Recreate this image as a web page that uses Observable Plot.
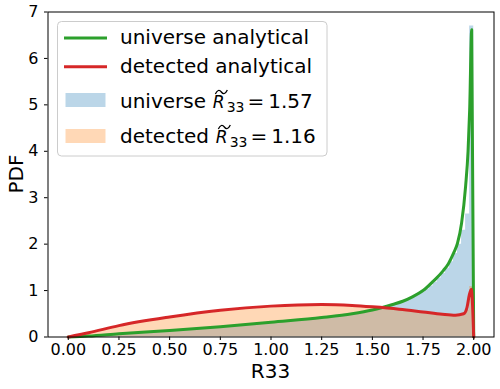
<!DOCTYPE html>
<html>
<head>
<meta charset="utf-8">
<script src="https://cdn.jsdelivr.net/npm/d3@7"></script>
<script src="https://cdn.jsdelivr.net/npm/@observablehq/plot@0.6"></script>
<style>
  html, body { margin: 0; padding: 0; background: white; }
  #chart { width: 500px; height: 389px; }
</style>
</head>
<body>
<div id="chart"></div>
<script>
// ---- data ----
const xTicks = [0, 0.25, 0.5, 0.75, 1.0, 1.25, 1.5, 1.75, 2.0];
const yTicks = [0, 1, 2, 3, 4, 5, 6, 7];

// analytical curves (x, pdf)
const universeX = [0, 0.1, 0.25, 0.5, 0.75, 1.0, 1.25, 1.4, 1.5, 1.6, 1.65, 1.7, 1.75, 1.8, 1.85, 1.875, 1.9, 1.92, 1.94, 1.96, 1.972, 1.98, 1.99, 2.0];
const universeY = [0, 0.02, 0.07, 0.14, 0.22, 0.32, 0.42, 0.5, 0.58, 0.70, 0.77, 0.87, 1.0, 1.2, 1.43, 1.58, 1.8, 2.02, 2.45, 3.25, 4.0, 4.9, 6.62, 0];
const detectedX = [0, 0.1, 0.25, 0.5, 0.75, 1.0, 1.25, 1.4, 1.5, 1.632, 1.75, 1.845, 1.91, 1.95, 1.967, 1.978, 1.988, 2.0];
const detectedY = [0, 0.09, 0.245, 0.43, 0.575, 0.665, 0.70, 0.68, 0.65, 0.60, 0.54, 0.49, 0.47, 0.50, 0.64, 0.90, 1.03, 0];

// histograms (density), bins of width 0.02 starting at 0
const binWidth = 0.02;
const universeHist = [
  0.00,0.01,0.01,0.02,0.02,0.03,0.03,0.04,0.04,0.05,
  0.05,0.06,0.06,0.07,0.07,0.08,0.08,0.09,0.09,0.10,
  0.11,0.11,0.12,0.12,0.13,0.14,0.14,0.15,0.15,0.16,
  0.17,0.17,0.18,0.19,0.19,0.20,0.21,0.22,0.22,0.23,
  0.24,0.25,0.25,0.26,0.27,0.28,0.29,0.30,0.30,0.31,
  0.32,0.33,0.34,0.35,0.36,0.36,0.37,0.38,0.39,0.40,
  0.41,0.42,0.43,0.44,0.45,0.46,0.47,0.48,0.49,0.50,
  0.51,0.52,0.53,0.55,0.56,0.58,0.60,0.62,0.64,0.67,
  0.69,0.72,0.75,0.79,0.83,0.87,0.92,0.97,1.03,1.10,
  1.18,1.27,1.37,1.48,1.62,1.80,2.00,2.30,2.65,6.70
];
const detectedHist = [
  0.005,0.02,0.04,0.06,0.08,0.10,0.12,0.14,0.16,0.18,
  0.20,0.22,0.24,0.255,0.27,0.285,0.30,0.315,0.33,0.345,
  0.36,0.375,0.39,0.40,0.41,0.42,0.435,0.445,0.455,0.465,
  0.475,0.485,0.495,0.505,0.515,0.525,0.535,0.545,0.55,0.56,
  0.57,0.575,0.585,0.59,0.60,0.605,0.61,0.615,0.62,0.625,
  0.63,0.635,0.64,0.645,0.65,0.65,0.655,0.655,0.66,0.66,
  0.66,0.665,0.665,0.665,0.66,0.66,0.66,0.655,0.655,0.65,
  0.645,0.64,0.635,0.63,0.625,0.62,0.61,0.605,0.60,0.59,
  0.585,0.58,0.57,0.56,0.555,0.545,0.535,0.53,0.52,0.51,
  0.50,0.495,0.485,0.48,0.47,0.465,0.465,0.48,0.58,1.09
];

const legendLabels = ["universe analytical", "detected analytical", "universe ", "detected "];
const medianValues = ["1.57", "1.16"];

// ---- build tables ----
const universeCurve = universeX.map((x, i) => ({x, y: universeY[i]}));
const detectedCurve = detectedX.map((x, i) => ({x, y: detectedY[i]}));
function histSteps(vals) {
  const pts = vals.map((v, i) => ({x: i * binWidth, y: v}));
  pts.push({x: vals.length * binWidth, y: vals[vals.length - 1]});
  return pts;
}
const uSteps = histSteps(universeHist);
const dSteps = histSteps(detectedHist);

const GREEN = "#2ca02c", RED = "#d62728", BLUE = "#1f77b4", ORANGE = "#ff7f0e";

const chart = Plot.plot({
  width: 500,
  height: 389,
  marginLeft: 47.5,
  marginRight: 6.5,
  marginTop: 11.5,
  marginBottom: 52.5,
  style: {fontFamily: "DejaVu Sans", fontSize: "16px", color: "black", background: "white"},
  x: {domain: [-0.1, 2.1]},
  y: {domain: [0, 7]},
  marks: [
    Plot.areaY(uSteps, {x: "x", y: "y", curve: "step-after", fill: BLUE, fillOpacity: 0.3}),
    Plot.areaY(dSteps, {x: "x", y: "y", curve: "step-after", fill: ORANGE, fillOpacity: 0.3}),
    Plot.line(universeCurve, {x: "x", y: "y", curve: "monotone-x", stroke: GREEN, strokeWidth: 3}),
    Plot.line(detectedCurve, {x: "x", y: "y", curve: "monotone-x", stroke: RED, strokeWidth: 3}),
    Plot.axisX({ticks: xTicks, tickFormat: d3.format(".2f"), tickSize: 3.5, tickPadding: 3, fontSize: 16, label: null}),
    Plot.axisY({ticks: yTicks, tickFormat: d3.format("d"), tickSize: 3.5, tickPadding: 6, fontSize: 16, label: null}),
    Plot.frame({stroke: "black", strokeWidth: 1})
  ]
});
document.getElementById("chart").appendChild(chart);

// ---- axis labels and legend ----
const svg = d3.select(chart);
svg.append("text")
  .attr("x", 270.5).attr("y", 377.5)
  .attr("text-anchor", "middle")
  .attr("font-family", "DejaVu Sans").attr("font-size", 20).attr("fill", "black")
  .text("R33");
svg.append("text")
  .attr("transform", "translate(23,174) rotate(-90)")
  .attr("text-anchor", "middle")
  .attr("font-family", "DejaVu Sans").attr("font-size", 20).attr("fill", "black")
  .text("PDF");

const lg = svg.append("g")
  .attr("font-family", "DejaVu Sans").attr("font-size", 20).attr("fill", "black")
  .attr("text-anchor", "start");
lg.append("rect")
  .attr("x", 57.5).attr("y", 21.5).attr("width", 269.5).attr("height", 134.5)
  .attr("rx", 4).attr("fill", "white").attr("fill-opacity", 0.8)
  .attr("stroke", "#cccccc").attr("stroke-width", 1);

const lineRows = [{y: 38, base: 44, color: GREEN, label: legendLabels[0]},
                  {y: 66.7, base: 72.7, color: RED, label: legendLabels[1]}];
lineRows.forEach(r => {
  lg.append("line").attr("x1", 65.5).attr("x2", 105.5).attr("y1", r.y).attr("y2", r.y)
    .attr("stroke", r.color).attr("stroke-width", 3).attr("stroke-linecap", "square");
  lg.append("text").attr("x", 120).attr("y", r.base).attr("text-anchor", "start").text(r.label);
});

const patchRows = [{y: 93, base: 108, color: BLUE, label: legendLabels[2], val: medianValues[0]},
                   {y: 129, base: 143, color: ORANGE, label: legendLabels[3], val: medianValues[1]}];
patchRows.forEach(r => {
  lg.append("rect").attr("x", 65.5).attr("y", r.y).attr("width", 40).attr("height", 14)
    .attr("fill", r.color).attr("fill-opacity", 0.3);
  const t = lg.append("text").attr("x", 120).attr("y", r.base)
    .attr("text-anchor", "start").style("white-space", "pre");
  t.append("tspan").text(r.label);
  t.append("tspan").attr("font-style", "oblique").attr("font-size", 17).attr("dx", 0.5).text("R");
  t.append("tspan").attr("font-size", 14).attr("dx", 2).attr("dy", 4).text("33");
  t.append("tspan").attr("dx", 3).attr("dy", -4).text("=");
  t.append("tspan").attr("dx", 4).text(r.val);
  // wide tilde accent over R
  const node = t.node();
  const idx = r.label.length;
  let x0 = 120 + (r.label === "universe " ? 92.9 : 95.8);
  try { x0 = node.getStartPositionOfChar(idx).x; } catch (e) {}
  const yb = r.base;
  lg.append("path")
    .attr("d", `M${x0 + 2.5},${yb - 14} Q${x0 + 5.5},${yb - 20} ${x0 + 8.5},${yb - 16} T${x0 + 14.5},${yb - 18}`)
    .attr("fill", "none").attr("stroke", "black").attr("stroke-width", 1.3);
});
</script>
</body>
</html>
